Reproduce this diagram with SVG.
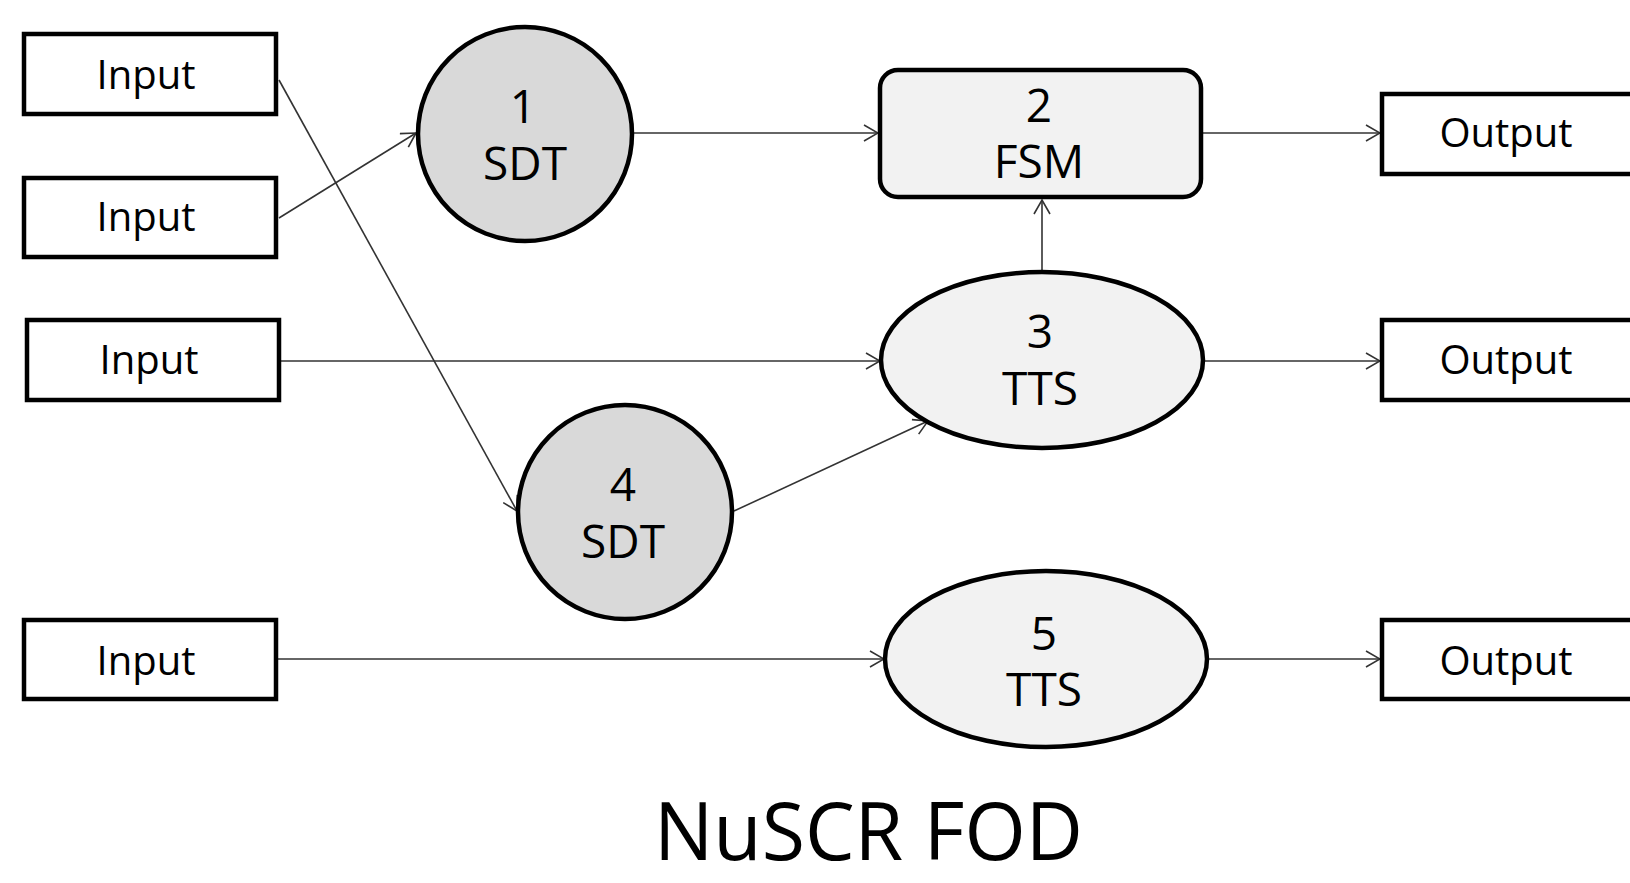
<svg xmlns="http://www.w3.org/2000/svg" width="1630" height="883" viewBox="0 0 1630 883">
  <style>
    .box { fill: #ffffff; stroke: #000000; stroke-width: 4.5; }
    .sdt { fill: #d9d9d9; stroke: #000000; stroke-width: 4.5; }
    .lite { fill: #f2f2f2; stroke: #000000; stroke-width: 4.5; }
    .io { font-family: "Open Sans", "Noto Sans", sans-serif; font-size: 40px; fill: #000000; text-anchor: middle; }
    .lbl { font-family: "Open Sans", "Noto Sans", sans-serif; font-size: 46px; fill: #000000; text-anchor: middle; }
    .title { font-family: "Open Sans", "Noto Sans", sans-serif; font-size: 81px; fill: #000000; }
    .edge { fill: none; stroke: #333333; stroke-width: 1.6; marker-end: url(#arrow); }
  </style>
  <defs>
    <marker id="arrow" viewBox="0 0 16 18" refX="15" refY="9" markerWidth="16" markerHeight="18" markerUnits="userSpaceOnUse" orient="auto">
      <path d="M1,1 L15,9 L1,17" fill="none" stroke="#333333" stroke-width="1.6"/>
    </marker>
  </defs>

  <rect width="1630" height="883" fill="#ffffff"/>

  <!-- connectors -->
  <g id="connectors">
    <line class="edge" x1="279" y1="80" x2="517" y2="511"/>
    <line class="edge" x1="279" y1="218" x2="416" y2="133"/>
    <line class="edge" x1="634" y1="133" x2="878" y2="133"/>
    <line class="edge" x1="1203" y1="133" x2="1380" y2="133"/>
    <line class="edge" x1="1042" y1="270" x2="1042" y2="200"/>
    <line class="edge" x1="281" y1="361" x2="880" y2="361"/>
    <line class="edge" x1="1205" y1="361" x2="1380" y2="361"/>
    <line class="edge" x1="734" y1="511" x2="928" y2="421"/>
    <line class="edge" x1="277" y1="659" x2="884" y2="659"/>
    <line class="edge" x1="1208" y1="659" x2="1380" y2="659"/>
  </g>

  <!-- inputs -->
  <g id="input1">
    <rect class="box" x="24" y="34" width="252" height="80"/>
    <text class="io" x="146" y="89">Input</text>
  </g>
  <g id="input2">
    <rect class="box" x="24" y="178" width="252" height="79"/>
    <text class="io" x="146" y="231">Input</text>
  </g>
  <g id="input3">
    <rect class="box" x="27" y="320" width="252" height="80"/>
    <text class="io" x="149" y="374">Input</text>
  </g>
  <g id="input4">
    <rect class="box" x="24" y="620" width="252" height="79"/>
    <text class="io" x="146" y="675">Input</text>
  </g>

  <!-- processing nodes -->
  <g id="node1">
    <circle class="sdt" cx="525" cy="134" r="107"/>
    <text class="lbl" x="523" y="123">1</text>
    <text class="lbl" x="525" y="180">SDT</text>
  </g>
  <g id="node2">
    <rect class="lite" x="880" y="70" width="321" height="127" rx="18" ry="18"/>
    <text class="lbl" x="1039" y="122">2</text>
    <text class="lbl" x="1039" y="178">FSM</text>
  </g>
  <g id="node3">
    <ellipse class="lite" cx="1042" cy="360" rx="161" ry="88"/>
    <text class="lbl" x="1040" y="348">3</text>
    <text class="lbl" x="1040" y="405">TTS</text>
  </g>
  <g id="node4">
    <circle class="sdt" cx="625" cy="512" r="107"/>
    <text class="lbl" x="623" y="501">4</text>
    <text class="lbl" x="623" y="558">SDT</text>
  </g>
  <g id="node5">
    <ellipse class="lite" cx="1046" cy="659" rx="161" ry="88"/>
    <text class="lbl" x="1044" y="650">5</text>
    <text class="lbl" x="1044" y="706">TTS</text>
  </g>

  <!-- outputs -->
  <g id="output1">
    <rect class="box" x="1382" y="94" width="260" height="80"/>
    <text class="io" x="1506" y="147">Output</text>
  </g>
  <g id="output2">
    <rect class="box" x="1382" y="320" width="260" height="80"/>
    <text class="io" x="1506" y="374">Output</text>
  </g>
  <g id="output3">
    <rect class="box" x="1382" y="620" width="260" height="79"/>
    <text class="io" x="1506" y="675">Output</text>
  </g>

  <text class="title" x="654" y="860" textLength="429" lengthAdjust="spacingAndGlyphs">NuSCR FOD</text>
</svg>
